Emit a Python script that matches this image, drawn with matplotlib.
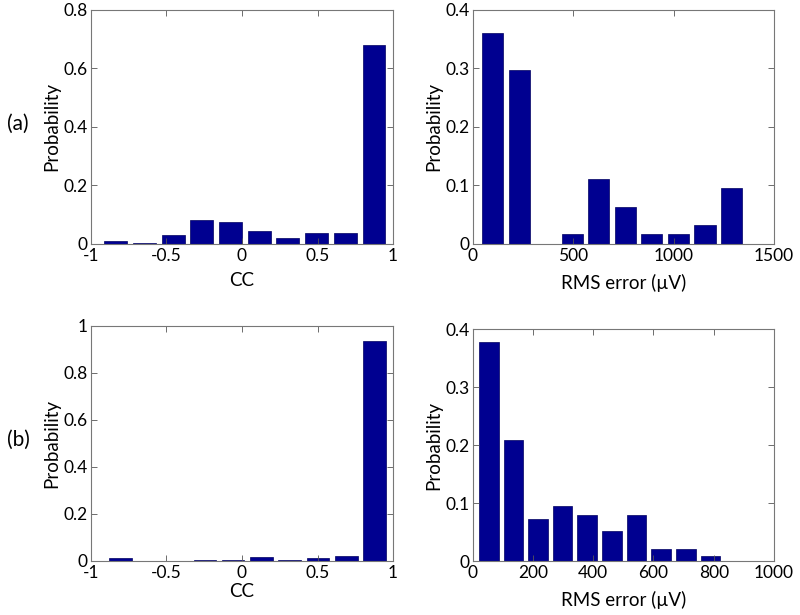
import numpy as np
import matplotlib
matplotlib.use("Agg")
import matplotlib.pyplot as plt

plt.rcParams['font.family'] = ['Lato', 'DejaVu Sans']

# bin centres and probabilities
cc_centers_a = [-0.834, -0.645, -0.455, -0.265, -0.075, 0.114, 0.304, 0.494, 0.684, 0.874]
cc_prob_a = [0.010, 0.005, 0.031, 0.081, 0.074, 0.046, 0.022, 0.039, 0.039, 0.680]

rms_centers_a = [100, 232, 364, 496, 628, 760, 892, 1024, 1156, 1288]
rms_prob_a = [0.360, 0.297, 0.0, 0.017, 0.111, 0.064, 0.017, 0.017, 0.032, 0.095]

cc_centers_b = [-0.804, -0.617, -0.430, -0.244, -0.058, 0.129, 0.316, 0.503, 0.690, 0.877]
cc_prob_b = [0.010, 0.0, 0.0, 0.003, 0.004, 0.017, 0.004, 0.010, 0.020, 0.935]

rms_centers_b = [53, 135, 217, 298, 380, 462, 544, 625, 707, 789]
rms_prob_b = [0.377, 0.209, 0.072, 0.094, 0.079, 0.052, 0.079, 0.020, 0.020, 0.008]

bar_color = '#000090'
tick_fs = 12.5
label_fs = 13.5

fig = plt.figure(figsize=(8, 6.15), dpi=100)

def panel(rect, centers, probs, xlim, xticks, xticklabels, ylim, yticks, yticklabels,
          xlabel, xlabel_y):
    ax = fig.add_axes(rect)
    width = 0.8 * (centers[1] - centers[0])
    ax.bar(centers, probs, width=width, color=bar_color, edgecolor='#000060', linewidth=0.5)
    ax.set_xlim(xlim)
    ax.set_ylim(ylim)
    ax.set_xticks(xticks)
    ax.set_xticklabels(xticklabels, fontsize=tick_fs)
    ax.set_yticks(yticks)
    ax.set_yticklabels(yticklabels, fontsize=tick_fs)
    ax.tick_params(direction='in', top=True, right=True, length=4, width=0.6,
                   color='#555555')
    ax.tick_params(axis='x', pad=3)
    ax.tick_params(axis='y', pad=2)
    for s in ax.spines.values():
        s.set_color('#777777')
        s.set_linewidth(0.8)
    ax.set_xlabel(xlabel, fontsize=label_fs, va='center')
    ax.xaxis.set_label_coords(0.5, xlabel_y)
    ax.set_ylabel('Probability', fontsize=label_fs, va='center')
    ax.yaxis.set_label_coords(-0.130, 0.5)
    return ax

cc_ticks = [-1, -0.5, 0, 0.5, 1]
cc_labels = ['-1', '-0.5', '0', '0.5', '1']

panel([0.1134, 0.6033, 0.378, 0.3805], cc_centers_a, cc_prob_a, (-1, 1),
      cc_ticks, cc_labels, (0, 0.8), [0, 0.2, 0.4, 0.6, 0.8],
      ['0', '0.2', '0.4', '0.6', '0.8'], 'CC', -0.154)
panel([0.5909, 0.6033, 0.3766, 0.3805], rms_centers_a, rms_prob_a, (0, 1500),
      [0, 500, 1000, 1500], ['0', '500', '1000', '1500'], (0, 0.4),
      [0, 0.1, 0.2, 0.3, 0.4], ['0', '0.1', '0.2', '0.3', '0.4'], 'RMS error (µV)', -0.167)
panel([0.1134, 0.0883, 0.378, 0.3821], cc_centers_b, cc_prob_b, (-1, 1),
      cc_ticks, cc_labels, (0, 1), [0, 0.2, 0.4, 0.6, 0.8, 1],
      ['0', '0.2', '0.4', '0.6', '0.8', '1'], 'CC', -0.133)
panel([0.5909, 0.0878, 0.3766, 0.3772], rms_centers_b, rms_prob_b, (0, 1000),
      [0, 200, 400, 600, 800, 1000], ['0', '200', '400', '600', '800', '1000'], (0, 0.4),
      [0, 0.1, 0.2, 0.3, 0.4], ['0', '0.1', '0.2', '0.3', '0.4'], 'RMS error (µV)', -0.168)

fig.text(18 / 800, 1 - 124 / 615, '(a)', fontsize=15, ha='center', va='center')
fig.text(18 / 800, 1 - 440 / 615, '(b)', fontsize=15, ha='center', va='center')

fig.savefig('out.png', dpi=100)
